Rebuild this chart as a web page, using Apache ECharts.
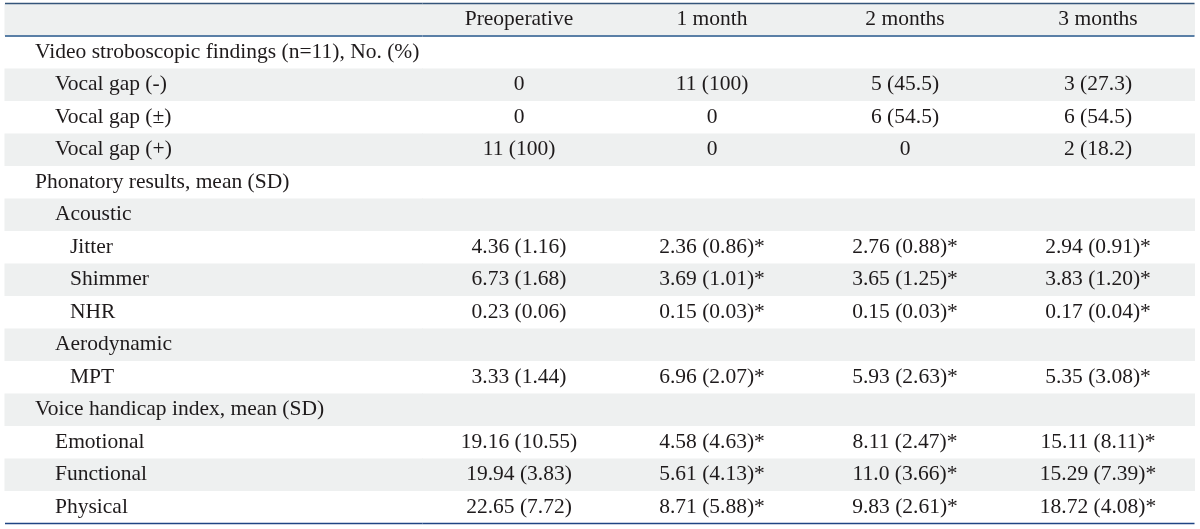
<!DOCTYPE html>
<html>
<head>
<meta charset="utf-8">
<script src="https://cdn.jsdelivr.net/npm/echarts@6/dist/echarts.min.js"></script>
<style>html,body{margin:0;padding:0;background:#fff;}#c{width:1200px;height:529px;}</style>
</head>
<body>
<div id="c"></div>
<script>
// ---- data ----
const columns = ['Preoperative', '1 month', '2 months', '3 months'];
const rowLabels = [
  'Video stroboscopic findings (n=11), No. (%)',
  'Vocal gap (-)',
  'Vocal gap (\u00b1)',
  'Vocal gap (+)',
  'Phonatory results, mean (SD)',
  'Acoustic',
  'Jitter',
  'Shimmer',
  'NHR',
  'Aerodynamic',
  'MPT',
  'Voice handicap index, mean (SD)',
  'Emotional',
  'Functional',
  'Physical'
];
const rowLevels = [0, 1, 1, 1, 0, 1, 2, 2, 2, 1, 2, 0, 1, 1, 1];
const preoperative = ['', '0', '0', '11 (100)', '', '', '4.36 (1.16)', '6.73 (1.68)', '0.23 (0.06)', '', '3.33 (1.44)', '', '19.16 (10.55)', '19.94 (3.83)', '22.65 (7.72)'];
const month1 = ['', '11 (100)', '0', '0', '', '', '2.36 (0.86)*', '3.69 (1.01)*', '0.15 (0.03)*', '', '6.96 (2.07)*', '', '4.58 (4.63)*', '5.61 (4.13)*', '8.71 (5.88)*'];
const month2 = ['', '5 (45.5)', '6 (54.5)', '0', '', '', '2.76 (0.88)*', '3.65 (1.25)*', '0.15 (0.03)*', '', '5.93 (2.63)*', '', '8.11 (2.47)*', '11.0 (3.66)*', '9.83 (2.61)*'];
const month3 = ['', '3 (27.3)', '6 (54.5)', '2 (18.2)', '', '', '2.94 (0.91)*', '3.83 (1.20)*', '0.17 (0.04)*', '', '5.35 (3.08)*', '', '15.11 (8.11)*', '15.29 (7.39)*', '18.72 (4.08)*'];

// ---- styles ----
const FONT = '21.5px "Liberation Serif", "Times New Roman", serif';
const TEXT_COLOR = '#1e1a1b';
const BAND_COLOR = '#eef0f0';
const INDENT = [30, 50, 65];

// row categories: 0 = header, 1..15 = body rows
const rowCats = ['header'].concat(rowLabels.map((_, i) => 'r' + i));
const valueCols = [preoperative, month1, month2, month3];

// cell lists for custom series (text kept in parallel arrays)
const headerCells = columns.map((c, i) => ({ pos: [i, 0], text: c }));
const valueCells = [];
valueCols.forEach((col, ci) => col.forEach((v, ri) => { if (v !== '') valueCells.push({ pos: [ci, ri + 1], text: v }); }));
const labelCells = rowLabels.map((t, i) => ({ pos: [0, i + 1], level: rowLevels[i], text: t }));
const shadedRows = [];
for (let r = 0; r < rowCats.length; r++) if (r % 2 === 0) shadedRows.push([0, r]);
const lineRows = [{ pos: [0, 0], side: 'top' }, { pos: [0, 0], side: 'bottom' }, { pos: [0, rowCats.length - 1], side: 'bottom' }];
const lineStyles = [
  { stroke: '#34557a', lineWidth: 1.6 },
  { stroke: '#5a7fa6', lineWidth: 2.2 },
  { stroke: '#1f4584', lineWidth: 1.6 }
];

function bandRender(params, api) {
  const cs = params.coordSys;
  const p = api.coord([api.value(0), api.value(1)]);
  const h = api.size([0, 1])[1];
  return { type: 'rect', shape: { x: cs.x - 0.5, y: p[1] - h / 2, width: cs.width + 1, height: h }, style: { fill: BAND_COLOR }, silent: true };
}
function makeLineRender() {
  return function (params, api) {
    const cs = params.coordSys;
    const p = api.coord([api.value(0), api.value(1)]);
    const h = api.size([0, 1])[1];
    const side = lineRows[params.dataIndex].side;
    const y = side === 'top' ? p[1] - h / 2 : p[1] + h / 2;
    const st = lineStyles[params.dataIndex];
    return { type: 'line', shape: { x1: cs.x, y1: y, x2: cs.x + cs.width, y2: y }, style: { stroke: st.stroke, lineWidth: st.lineWidth }, silent: true, z2: 10 };
  };
}
function makeCenterTextRender(cells) {
  return function (params, api) {
    const p = api.coord([api.value(0), api.value(1)]);
    return { type: 'text', style: { text: cells[params.dataIndex].text, x: p[0], y: p[1], align: 'center', verticalAlign: 'middle', font: FONT, fill: TEXT_COLOR }, silent: true };
  };
}
function labelTextRender(params, api) {
  const cs = params.coordSys;
  const p = api.coord([api.value(0), api.value(1)]);
  const cell = labelCells[params.dataIndex];
  return { type: 'text', style: { text: cell.text, x: cs.x + INDENT[cell.level], y: p[1], align: 'left', verticalAlign: 'middle', font: FONT, fill: TEXT_COLOR }, silent: true };
}

const hiddenAxis = { show: false };
const chart = echarts.init(document.getElementById('c'), null, { renderer: 'canvas' });
chart.setOption({
  animation: false,
  backgroundColor: '#ffffff',
  grid: [
    { left: 5, top: 3.5, width: 417.5, height: 520 },
    { left: 422.5, top: 3.5, width: 772, height: 520 }
  ],
  xAxis: [
    Object.assign({ type: 'category', gridIndex: 0, data: ['label'] }, hiddenAxis),
    Object.assign({ type: 'category', gridIndex: 1, data: columns }, hiddenAxis)
  ],
  yAxis: [
    Object.assign({ type: 'category', gridIndex: 0, data: rowCats, inverse: true }, hiddenAxis),
    Object.assign({ type: 'category', gridIndex: 1, data: rowCats, inverse: true }, hiddenAxis)
  ],
  series: [
    { type: 'custom', xAxisIndex: 0, yAxisIndex: 0, data: shadedRows, renderItem: bandRender, z: 1 },
    { type: 'custom', xAxisIndex: 1, yAxisIndex: 1, data: shadedRows, renderItem: bandRender, z: 1 },
    { type: 'custom', xAxisIndex: 0, yAxisIndex: 0, data: labelCells.map(d => d.pos), renderItem: labelTextRender, z: 3 },
    { type: 'custom', xAxisIndex: 1, yAxisIndex: 1, data: headerCells.map(d => d.pos), renderItem: makeCenterTextRender(headerCells), z: 3 },
    { type: 'custom', xAxisIndex: 1, yAxisIndex: 1, data: valueCells.map(d => d.pos), renderItem: makeCenterTextRender(valueCells), z: 3 },
    { type: 'custom', xAxisIndex: 0, yAxisIndex: 0, data: lineRows.map(d => d.pos), renderItem: makeLineRender(), z: 5 },
    { type: 'custom', xAxisIndex: 1, yAxisIndex: 1, data: lineRows.map(d => d.pos), renderItem: makeLineRender(), z: 5 }
  ]
});
</script>
</body>
</html>
